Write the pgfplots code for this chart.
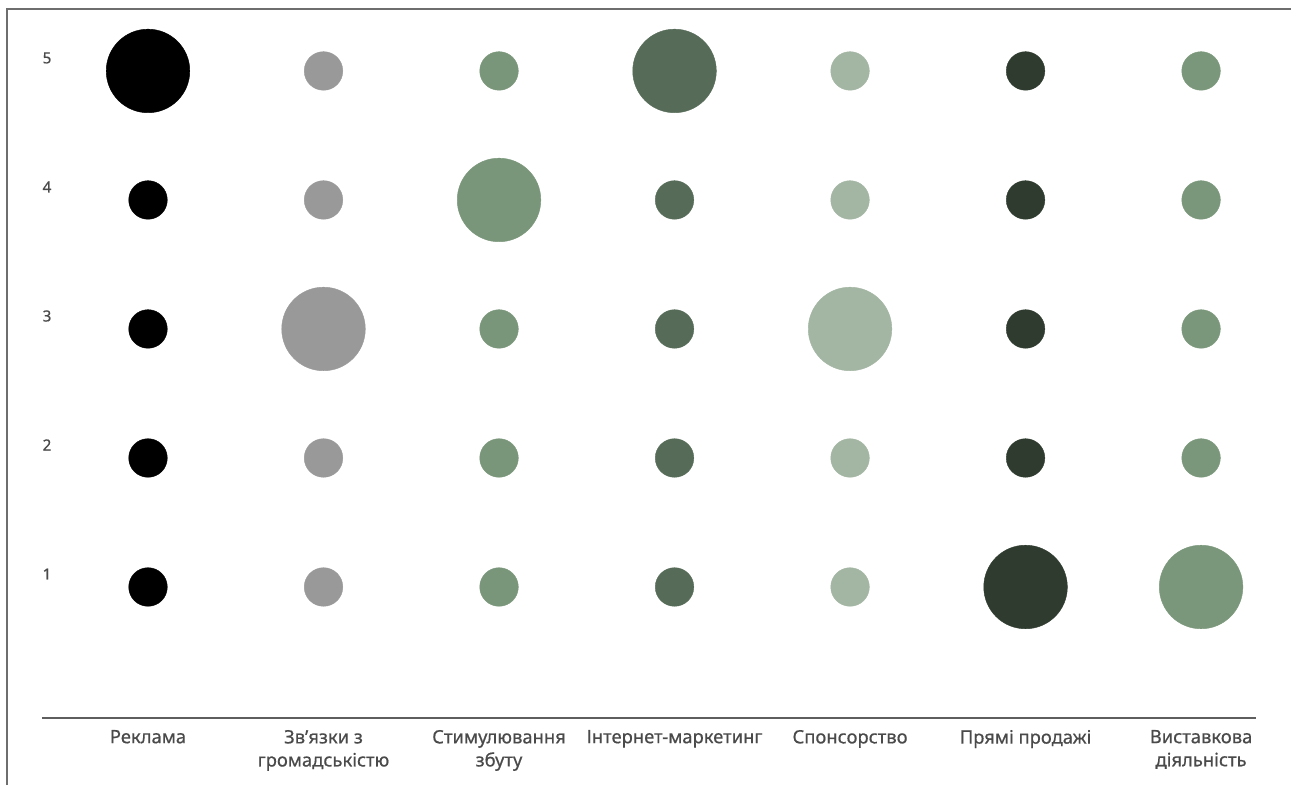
\documentclass[border=0pt]{standalone}
\usepackage{pgfplots}
\pgfplotsset{compat=1.18}
\usepackage{pgfplotstable}
\usepackage{fontspec}
\setmainfont{Noto Sans}
\newfontfamily\lblfont[FakeBold=0.6,Ligatures=TeX]{Noto Sans}
\definecolor{cBlack}{HTML}{000000}
\definecolor{cGray}{HTML}{999999}
\definecolor{cGreen}{HTML}{7A967A}
\definecolor{cDark}{HTML}{566B58}
\definecolor{cLight}{HTML}{A3B5A3}
\definecolor{cVDark}{HTML}{2F3B2F}
\definecolor{cExh}{HTML}{7B977B}
\definecolor{txt}{HTML}{4A4A4A}
\definecolor{framec}{HTML}{6E6E6E}
\definecolor{axc}{HTML}{5E5E5E}

% x = category index, y = level, r = bubble radius (px)
\pgfplotstableread{
x y r
0 1 19.5
0 2 19.5
0 3 19.5
0 4 19.5
0 5 42
}\tReklama
\pgfplotstableread{
x y r
1 1 19.5
1 2 19.5
1 3 42
1 4 19.5
1 5 19.5
}\tPR
\pgfplotstableread{
x y r
2 1 19.5
2 2 19.5
2 3 19.5
2 4 42
2 5 19.5
}\tStim
\pgfplotstableread{
x y r
3 1 19.5
3 2 19.5
3 3 19.5
3 4 19.5
3 5 42
}\tInet
\pgfplotstableread{
x y r
4 1 19.5
4 2 19.5
4 3 42
4 4 19.5
4 5 19.5
}\tSpons
\pgfplotstableread{
x y r
5 1 42
5 2 19.5
5 3 19.5
5 4 19.5
5 5 19.5
}\tDirect
\pgfplotstableread{
x y r
6 1 42
6 2 19.5
6 3 19.5
6 4 19.5
6 5 19.5
}\tExh

\pgfplotsset{
  bub/.style={scatter, only marks, mark=*,
    visualization depends on={0.75*\thisrow{r}-0.15 \as \rr},
    scatter/use mapped color={draw=#1, fill=#1, line width=0.3pt},
    scatter/@pre marker code/.append style={/tikz/mark size=\rr}}
}

\begin{document}
\begin{tikzpicture}[x=0.75pt,y=0.75pt]
\useasboundingbox (0,0) rectangle (1291,785);
\begin{axis}[
  at={(31.5pt,50.25pt)}, anchor=south west,
  scale only axis, width=910.5pt, height=523.5pt,
  xmin=-0.604, xmax=6.313, ymin=-0.0155, ymax=5.395,
  clip=false,
  axis x line*=bottom, axis y line*=left,
  x axis line style={draw=axc, line width=2.2pt},
  y axis line style={draw=none},
  major tick length=0pt,
  xtick={0,...,6},
  xticklabels={Реклама, {Зв'язки з\\громадськістю}, {Стимулювання\\збуту}, Інтернет-маркетинг, Спонсорство, Прямі продажі, {Виставкова\\діяльність}},
  xticklabel style={align=center, text=txt, font=\lblfont\fontsize{13.8}{17.3}\selectfont, anchor=north, yshift=-5.5pt},
  ytick={1,...,5},
  yticklabel style={anchor=center, text=txt, font=\lblfont\fontsize{11.5}{13}\selectfont, xshift=3.75pt, yshift=9.75pt},
  /pgf/number format/assume math mode=true,
]
\addplot[bub=cBlack] table[x=x,y=y] {\tReklama};
\addplot[bub=cGray] table[x=x,y=y] {\tPR};
\addplot[bub=cGreen] table[x=x,y=y] {\tStim};
\addplot[bub=cDark] table[x=x,y=y] {\tInet};
\addplot[bub=cLight] table[x=x,y=y] {\tSpons};
\addplot[bub=cVDark] table[x=x,y=y] {\tDirect};
\addplot[bub=cExh] table[x=x,y=y] {\tExh};
\end{axis}
\draw[framec, line width=1.5pt] (7,0) -- (7,776) -- (1291,776);
\end{tikzpicture}
\end{document}
